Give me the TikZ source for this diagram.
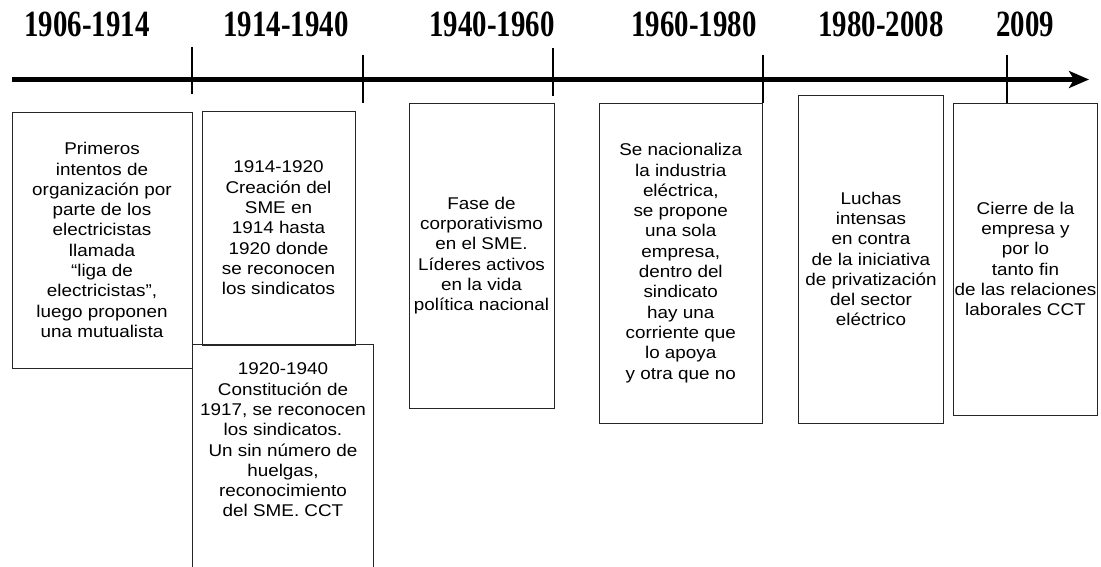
\documentclass[tikz,border=0pt]{standalone}
\usepackage{fontspec}
\setmainfont{Liberation Sans}[FakeStretch=1.11]
\newfontfamily\yearfont{Liberation Serif}[FakeStretch=0.78]
\usetikzlibrary{arrows.meta}
\begin{document}
\begin{tikzpicture}[x=1pt,y=-1pt,
  box/.style={draw=black!85, line width=0.8pt, inner sep=0pt},
  txt/.style={align=center, font=\fontsize{17}{20.3}\selectfont, inner sep=0pt},
  year/.style={font=\yearfont\bfseries\fontsize{37}{40}\selectfont, inner sep=0pt},
  tickline/.style={line width=2pt},
  axisline/.style={line width=4.5pt, -{Stealth[length=20pt,width=17pt,inset=5pt]}}]
\useasboundingbox (0,0) rectangle (1101,567);
% year labels
\node[year] (y1) at (87,24.5) {1906-1914};
\node[year] (y2) at (286,24.5) {1914-1940};
\node[year] (y3) at (492,24.5) {1940-1960};
\node[year] (y4) at (694,24.5) {1960-1980};
\node[year] (y5) at (881,24.5) {1980-2008};
\node[year] (y6) at (1025,24.5) {2009};
% axis
\coordinate (a0) at (12,79.5);
\coordinate (a1) at (1089,79.5);
\draw[axisline] (a0) -- (a1);
% ticks
\coordinate (t1a) at (192,47); \coordinate (t1b) at (192,94);
\coordinate (t2a) at (363,55); \coordinate (t2b) at (363,103);
\coordinate (t3a) at (553,48); \coordinate (t3b) at (553,96);
\coordinate (t4a) at (762.5,55); \coordinate (t4b) at (762.5,103);
\coordinate (t5a) at (1007,55); \coordinate (t5b) at (1007,103);
\draw[tickline] (t1a) -- (t1b);
\draw[tickline] (t2a) -- (t2b);
\draw[tickline] (t3a) -- (t3b);
\draw[tickline] (t4a) -- (t4b);
\draw[tickline] (t5a) -- (t5b);
% boxes
\node[box,txt,minimum width=180pt,minimum height=256pt] (b1) at (102,240)
 {Primeros\\intentos de\\organización por\\parte de los\\electricistas\\llamada\\“liga de\\electricistas”,\\luego proponen\\una mutualista};
\node[box,txt,minimum width=153pt,minimum height=234pt] (b2) at (278.5,228)
 {1914-1920\\Creación del\\SME en\\1914 hasta\\1920 donde\\se reconocen\\los sindicatos};
\node[box,minimum width=181pt,minimum height=256pt] (b3) at (282.5,472) {};
\node[txt] (t3) at (283,440)
 {1920-1940\\Constitución de\\1917, se reconocen\\los sindicatos.\\Un sin número de\\huelgas,\\reconocimiento\\del SME. CCT};
\node[box,txt,minimum width=145pt,minimum height=305pt] (b4) at (481.5,255.5)
 {Fase de\\corporativismo\\en el SME.\\Líderes activos\\en la vida\\política nacional};
\node[box,txt,minimum width=163.5pt,minimum height=320pt] (b5) at (680.75,263)
 {Se nacionaliza\\la industria\\eléctrica,\\se propone\\una sola\\empresa,\\dentro del\\sindicato\\hay una\\corriente que\\lo apoya\\y otra que no};
\node[box,txt,minimum width=145pt,minimum height=328pt] (b6) at (871,259)
 {Luchas\\intensas\\en contra\\de la iniciativa\\de privatización\\del sector\\eléctrico};
\node[box,txt,minimum width=144pt,minimum height=312pt] (b7) at (1025.5,259)
 {Cierre de la\\empresa y\\por lo\\tanto fin\\de las relaciones\\laborales CCT};
\end{tikzpicture}
\end{document}
